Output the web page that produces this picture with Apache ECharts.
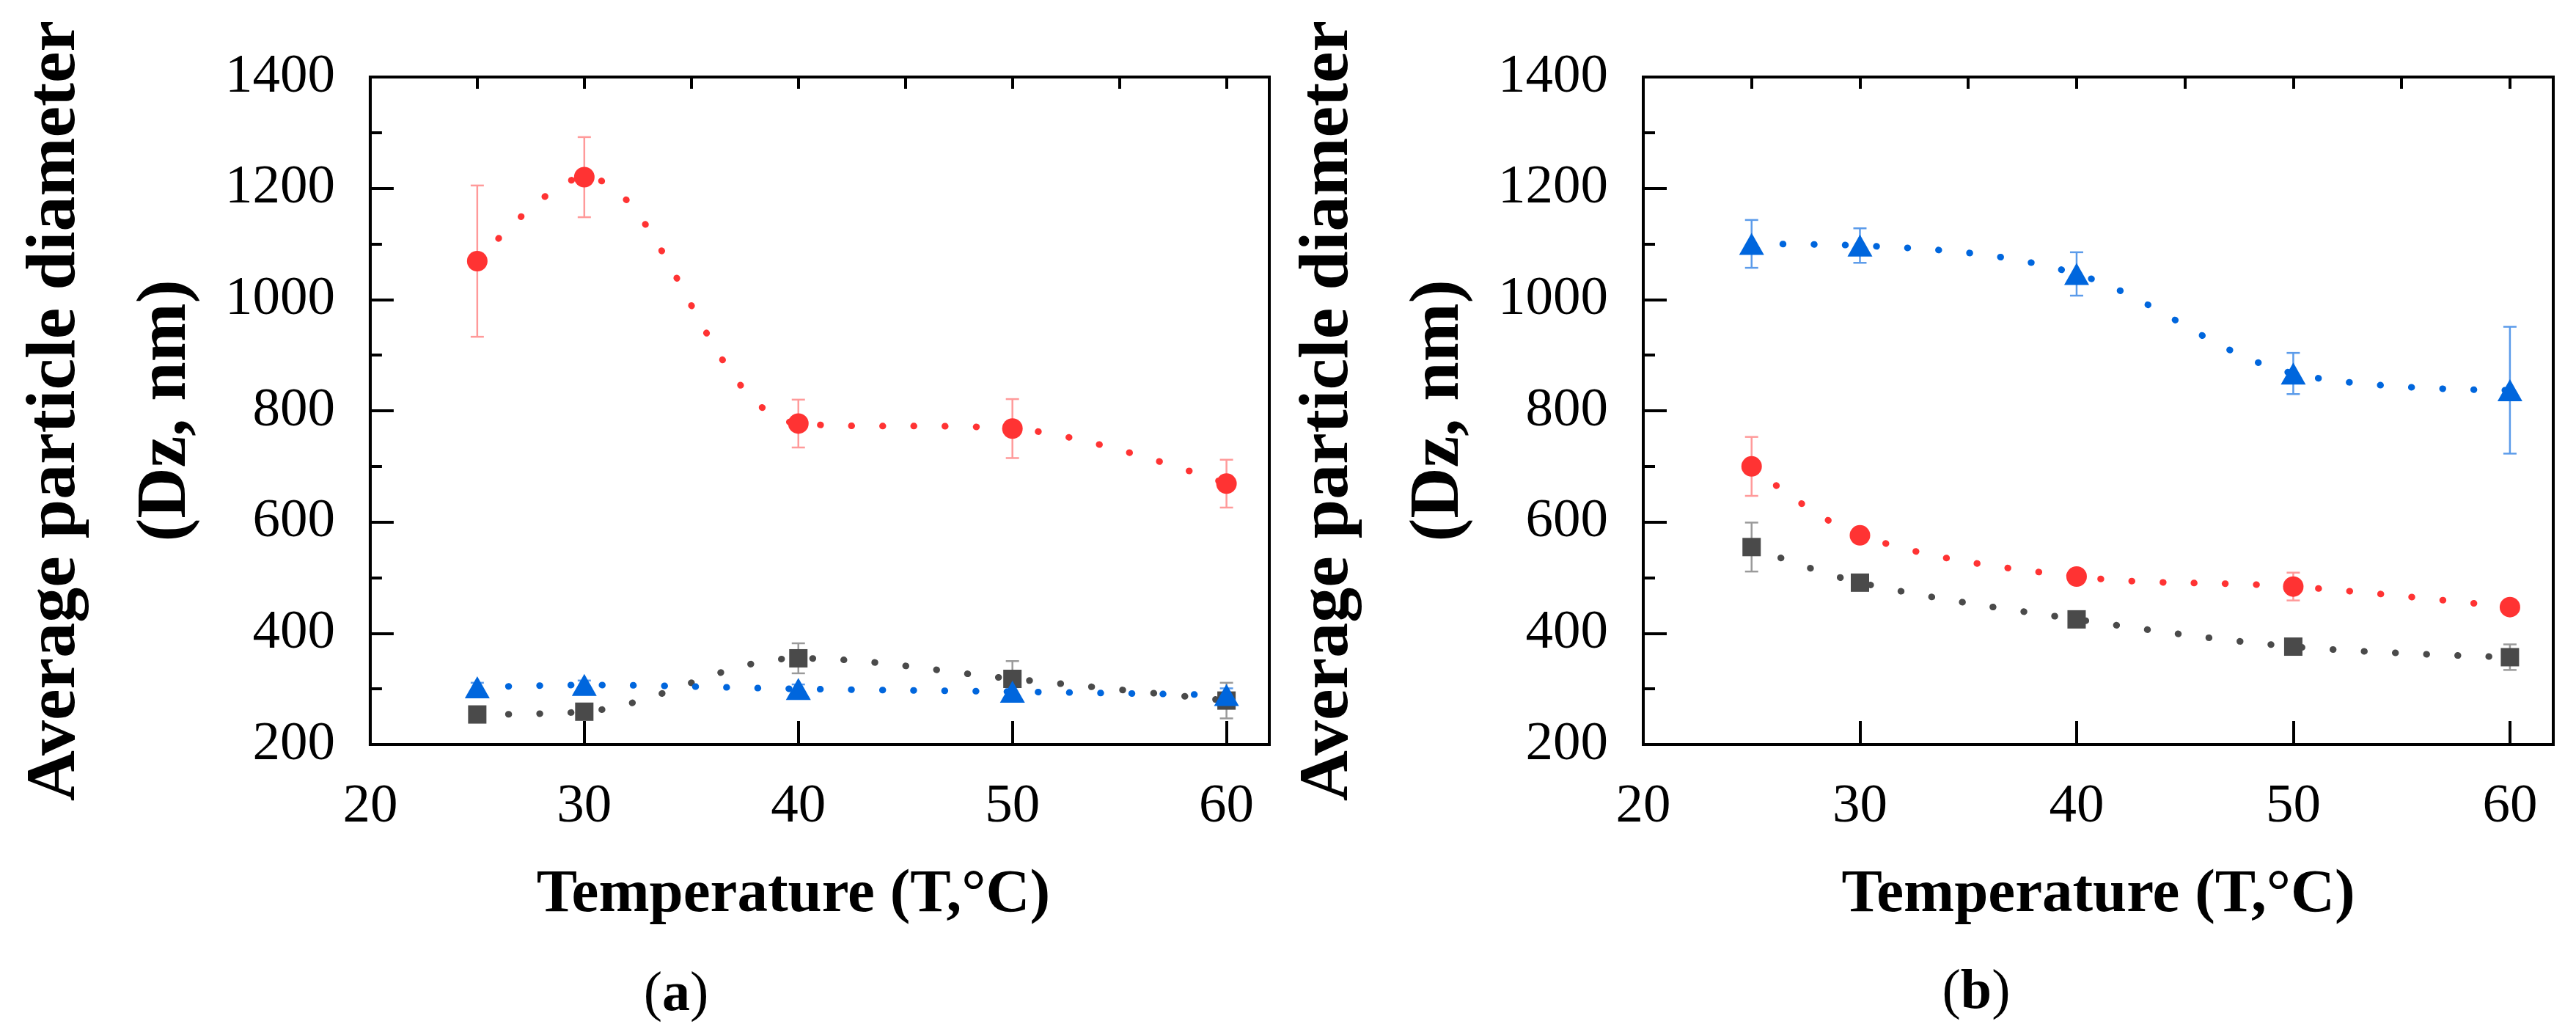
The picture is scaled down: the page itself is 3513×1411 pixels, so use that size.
<!DOCTYPE html>
<html>
<head>
<meta charset="utf-8">
<script src="https://cdn.jsdelivr.net/npm/echarts@6/dist/echarts.min.js"></script>
<style>
  html, body { margin: 0; padding: 0; background: #fff; }
  #chart { width: 3513px; height: 1411px; }
</style>
</head>
<body>
<div id="chart"></div>
<script>
// ---- data ----
const temps = [25, 30, 40, 50, 60];
const xTicks = [20, 30, 40, 50, 60];
const yTicks = [200, 400, 600, 800, 1000, 1200, 1400];

// panel (a)
const aBlack    = [254, 259, 355, 318, 279];
const aBlackErr = [8, 8, 27, 32, 32];
const aRed      = [1069, 1220, 777, 768, 669];
const aRedErr   = [136, 72, 43, 53, 43];
const aBlue     = [303, 307, 300, 295, 289];
const aBlueErr  = [8, 8, 8, 8, 12];

// panel (b)
const bBlue     = [1100, 1097, 1046, 867, 837];
const bBlueErr  = [43, 31, 39, 37, 114];
const bRed      = [700, 576, 502, 484, 447];
const bRedErr   = [53, 10, 10, 25, 10];
const bBlack    = [555, 491, 425, 376, 357];
const bBlackErr = [44, 10, 10, 10, 23];

const panelLabels = ['a', 'b'];
const yName = 'Average particle diameter\n(Dz, nm)';
const xName = 'Temperature (T,°C)';

// ---- style ----
const FONT = 'Liberation Serif';
const RED = '#FF3333', RED_E = '#FF9A9A';
const BLUE = '#0066DD', BLUE_E = '#5B9BEA';
const GRAY = '#4A4A4A', GRAY_E = '#9A9A9A';

const chart = echarts.init(document.getElementById('chart'));

function grid(left, right) {
  return { left: left, right: right, top: 105, height: 910, show: true,
           borderColor: '#000', borderWidth: 4, backgroundColor: 'transparent' };
}

function xMajor(gi, shift) {
  return {
    type: 'value', gridIndex: gi, min: 20, max: 62, interval: 10,
    name: xName, nameLocation: 'middle', nameGap: 164,
    nameTextStyle: { fontFamily: FONT, fontSize: 83, fontWeight: 'bold', color: '#000',
                     padding: shift ? [0, shift, 0, 0] : 0 },
    axisLine: { show: true, onZero: false, lineStyle: { color: '#000', width: 4 } },
    axisTick: { show: true, inside: true, length: 32, lineStyle: { color: '#000', width: 4 } },
    axisLabel: { show: true, margin: 48, fontFamily: FONT, fontSize: 75, color: '#000',
                 showMaxLabel: false,
                 formatter: v => (xTicks.indexOf(v) >= 0 ? String(v) : '') },
    splitLine: { show: false }
  };
}
function xMinor(gi) {
  return {
    type: 'value', gridIndex: gi, min: 20, max: 62, interval: 5,
    axisLine: { show: false, onZero: false },
    axisTick: { show: true, inside: true, length: 16, lineStyle: { color: '#000', width: 4 } },
    axisLabel: { show: false }, splitLine: { show: false }
  };
}
function yAx(gi) {
  return {
    type: 'value', gridIndex: gi, min: 200, max: 1400, interval: 200,
    name: yName, nameLocation: 'middle', nameGap: 200, nameRotate: 90,
    nameTextStyle: { fontFamily: FONT, fontSize: 96, fontWeight: 'bold', color: '#000', lineHeight: 151 },
    axisLine: { show: true, onZero: false, lineStyle: { color: '#000', width: 4 } },
    axisTick: { show: true, inside: true, length: 32, lineStyle: { color: '#000', width: 4 } },
    minorTick: { show: true, splitNumber: 2, length: 16, lineStyle: { color: '#000', width: 4 } },
    axisLabel: { show: true, margin: 48, fontFamily: FONT, fontSize: 75, color: '#000',
                 formatter: v => (yTicks.indexOf(v) >= 0 ? String(v) : '') },
    splitLine: { show: false }, minorSplitLine: { show: false }
  };
}

function lineSeries(xi, yi, vals, color, symbol, size) {
  return {
    type: 'line', xAxisIndex: xi, yAxisIndex: yi, z: 3,
    data: temps.map((t, i) => [t, vals[i]]),
    smooth: 0.35,
    symbol: symbol, symbolSize: size,
    itemStyle: { color: color, opacity: 1 },
    lineStyle: { color: color, width: 9, type: [0.5, 42], cap: 'round' },
    emphasis: { disabled: true }, silent: true
  };
}
function errSeries(xi, yi, vals, errs, color) {
  return {
    type: 'custom', xAxisIndex: xi, yAxisIndex: yi, z: 2, silent: true,
    data: temps.map((t, i) => [t, vals[i], errs[i]]),
    encode: { x: 0, y: 1 },
    renderItem: function (params, api) {
      const x = api.value(0), y = api.value(1), e = api.value(2);
      const top = api.coord([x, y + e]);
      const bot = api.coord([x, y - e]);
      const hw = 9;
      const st = { stroke: color, lineWidth: 2.5 };
      return { type: 'group', children: [
        { type: 'line', shape: { x1: top[0], y1: top[1], x2: bot[0], y2: bot[1] }, style: st },
        { type: 'line', shape: { x1: top[0] - hw, y1: top[1], x2: top[0] + hw, y2: top[1] }, style: st },
        { type: 'line', shape: { x1: bot[0] - hw, y1: bot[1], x2: bot[0] + hw, y2: bot[1] }, style: st }
      ]};
    }
  };
}

const CIRC = ['circle', 28], SQ = ['rect', 25], TRI = ['triangle', [34, 30]];

const option = {
  animation: false,
  backgroundColor: '#fff',
  grid: [grid(491, 3513 - 1731), grid(2241, 3513 - 3482)],
  xAxis: [xMajor(0, 72), xMinor(0), xMajor(1, 0), xMinor(1)],
  yAxis: [yAx(0), yAx(1)],
  series: [
    errSeries(0, 0, aRed, aRedErr, RED_E),
    errSeries(0, 0, aBlack, aBlackErr, GRAY_E),
    errSeries(0, 0, aBlue, aBlueErr, BLUE_E),
    lineSeries(0, 0, aBlack, GRAY, SQ[0], SQ[1]),
    lineSeries(0, 0, aRed, RED, CIRC[0], CIRC[1]),
    lineSeries(0, 0, aBlue, BLUE, TRI[0], TRI[1]),

    errSeries(2, 1, bBlue, bBlueErr, BLUE_E),
    errSeries(2, 1, bRed, bRedErr, RED_E),
    errSeries(2, 1, bBlack, bBlackErr, GRAY_E),
    lineSeries(2, 1, bBlack, GRAY, SQ[0], SQ[1]),
    lineSeries(2, 1, bRed, RED, CIRC[0], CIRC[1]),
    lineSeries(2, 1, bBlue, BLUE, TRI[0], TRI[1])
  ],
  graphic: [
    { type: 'text', x: 922, y: 1357, style: {
        text: '{n|(}{b|' + panelLabels[0] + '}{n|)}', align: 'center', verticalAlign: 'middle',
        rich: { n: { fontFamily: FONT, fontSize: 76, fill: '#000' },
                b: { fontFamily: FONT, fontSize: 76, fontWeight: 'bold', fill: '#000' } } } },
    { type: 'text', x: 2695, y: 1354, style: {
        text: '{n|(}{b|' + panelLabels[1] + '}{n|)}', align: 'center', verticalAlign: 'middle',
        rich: { n: { fontFamily: FONT, fontSize: 76, fill: '#000' },
                b: { fontFamily: FONT, fontSize: 76, fontWeight: 'bold', fill: '#000' } } } }
  ]
};
chart.setOption(option);
</script>
</body>
</html>
